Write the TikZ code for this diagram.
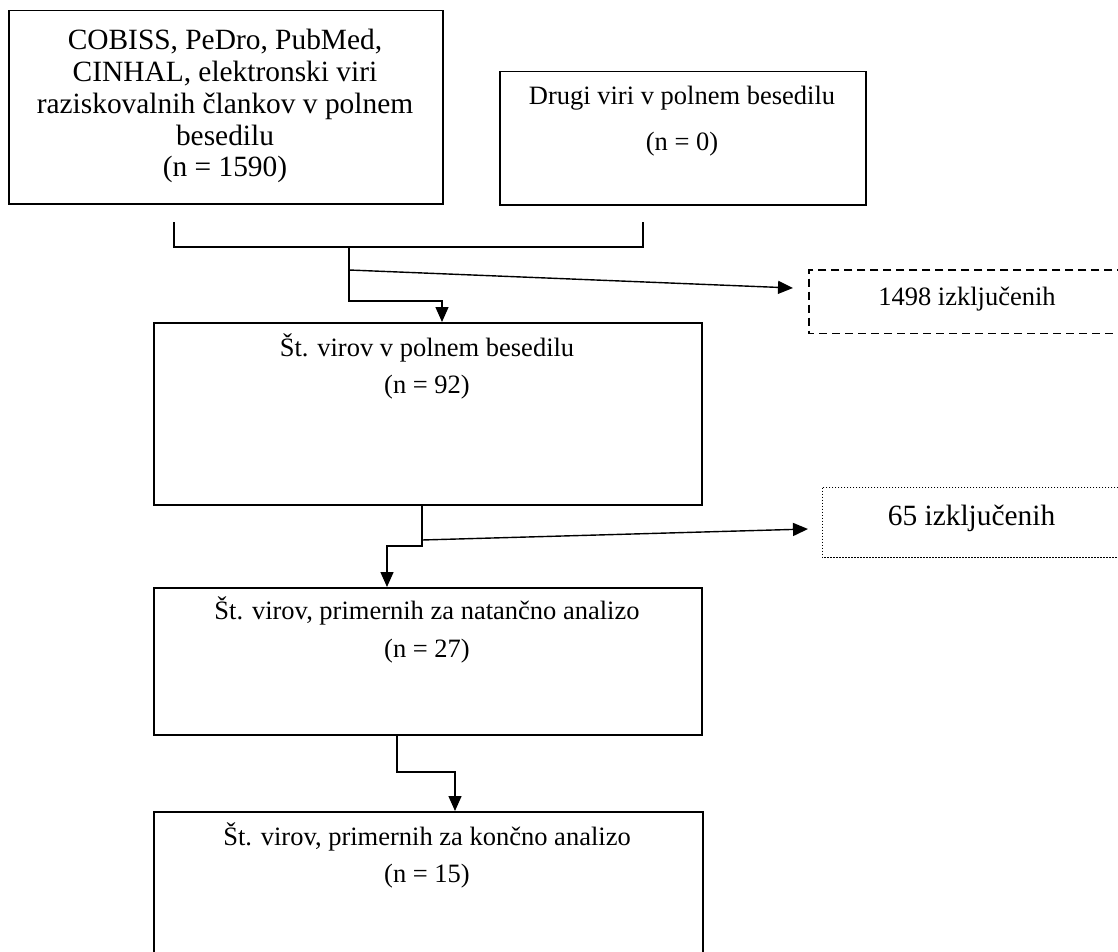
\documentclass[tikz,border=0pt]{standalone}
\usepackage{fontspec}
\setmainfont{Liberation Serif}
\usetikzlibrary{arrows.meta}
\begin{document}
\begin{tikzpicture}[x=1pt,y=-1pt,
  box/.style={draw, line width=1.5pt, anchor=north west, inner sep=0pt},
  frame/.style={anchor=north west, inner sep=0pt},
  ln/.style={line width=1.4pt},
  arr/.style={line width=1.4pt, -{Triangle[length=15pt,width=13pt]}},
  txt/.style={anchor=base, inner sep=0pt, font=\fontsize{26.5}{30}\selectfont},
  big/.style={anchor=base, inner sep=0pt, font=\fontsize{29.4}{32}\selectfont},
  dashfr/.style={line width=1.5pt, dash pattern=on 8pt off 5pt},
  dotfr/.style={line width=1pt, dash pattern=on 1.5pt off 1.5pt},
]
\useasboundingbox (0,0) rectangle (1118,952);

% boxes
\node[box, minimum width=434pt, minimum height=193pt] (src1) at (8,10) {};
\node[big] (s1a) at (225,50) {COBISS, PeDro, PubMed,};
\node[big] (s1b) at (225,81.75) {CINHAL, elektronski viri};
\node[big] (s1c) at (225,113.5) {raziskovalnih člankov v polnem};
\node[big] (s1d) at (225,145.25) {besedilu};
\node[big] (s1e) at (225,177) {(n = 1590)};

\node[box, minimum width=366pt, minimum height=133pt] (src2) at (499,71) {};
\node[txt] (s2a) at (682,105) {Drugi viri v polnem besedilu};
\node[txt] (s2b) at (682,151) {(n = 0)};

\node[box, minimum width=548pt, minimum height=182pt] (st3) at (153,322) {};
\node[txt] (s3a) at (427,356) {Št. virov v polnem besedilu};
\node[txt] (s3b) at (427,393) {(n = 92)};

\node[box, minimum width=548pt, minimum height=147pt] (st4) at (153,587) {};
\node[txt] (s4a) at (427,619) {Št. virov, primernih za natančno analizo};
\node[txt] (s4b) at (427,657) {(n = 27)};

\node[box, minimum width=549pt, minimum height=170pt] (st5) at (153,811) {};
\node[txt] (s5a) at (427,845) {Št. virov, primernih za končno analizo};
\node[txt] (s5b) at (427,882) {(n = 15)};

% exclusion boxes (open on the right, beyond the page)
\node[frame, minimum width=316pt, minimum height=63pt] (ex1) at (809,270) {};
\draw[dashfr] (ex1.north east) -- (ex1.north west) -- (ex1.south west) -- (ex1.south east);
\node[txt] (e1t) at (967,305) {1498 izključenih};

\node[frame, minimum width=299pt, minimum height=70pt] (ex2) at (822,487) {};
\draw[dotfr] (ex2.north east) -- (ex2.north west) -- (ex2.south west) -- (ex2.south east);
\node[big] (e2t) at (971.5,525) {65 izključenih};

% bracket joining the two sources
\coordinate (bL) at (174,222);
\coordinate (bR) at (643,222);
\coordinate (bM) at (349,247);
\draw[ln] (bL) |- (bM) -| (bR);

\coordinate (k1) at (442,301);
\coordinate (d1) at (349,270);
\coordinate (e1tip) at (793,288);
\draw[arr] (bM) |- (k1) -- (k1 |- st3.north);
\draw[arr] (d1) -- (e1tip);

% second step
\coordinate (m2) at (422,504);
\coordinate (k2) at (387,546);
\coordinate (d2) at (422,540);
\coordinate (e2tip) at (808,529);
\draw[arr] (m2) |- (k2) -- (k2 |- st4.north);
\draw[arr] (d2) -- (e2tip);

% third step
\coordinate (m3) at (397,734);
\coordinate (k3) at (455,772);
\draw[arr] (m3) |- (k3) -- (k3 |- st5.north);
\end{tikzpicture}
\end{document}
